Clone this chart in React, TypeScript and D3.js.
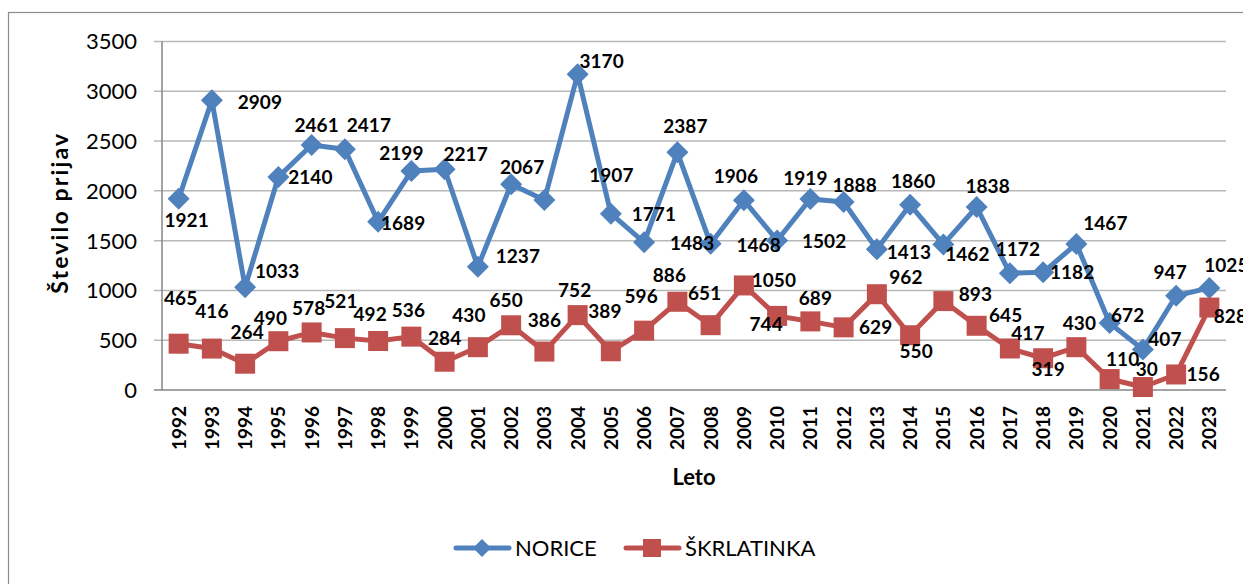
import * as d3 from "d3";

const years = d3.range(1992, 2024).map(String);

const norice = [
  1921, 2909, 1033, 2140, 2461, 2417, 1689, 2199, 2217, 1237, 2067, 1907, 3170, 1771, 1483, 2387,
  1468, 1906, 1502, 1919, 1888, 1413, 1860, 1462, 1838, 1172, 1182, 1467, 672, 407, 947, 1025,
];

const skrlatinka = [
  465, 416, 264, 490, 578, 521, 492, 536, 284, 430, 650, 386, 752, 389, 596, 886,
  651, 1050, 744, 689, 629, 962, 550, 893, 645, 417, 319, 430, 110, 30, 156, 828,
];

const yTicks = [0, 500, 1000, 1500, 2000, 2500, 3000, 3500];

// label offsets from the point (dx, baseline dy), as placed in the original
const noriceLabelOffset = [
  [8, 28], [48, 9], [32, -9], [32, 7], [5, -13], [24, -17], [25, 8], [-10, -11],
  [21, -8], [40, -4], [11, -10], [67, -18], [24, -6], [43, 7], [48, 8], [8, -19],
  [48, 8], [-8, -17], [47, 8], [-5, -14], [11, -10], [32, 10], [3, -17], [24, 17],
  [11, -14], [8, -17], [29, 7], [29, -14], [18, -1], [22, -3], [-6, -17], [17, -16],
];
const skrlatinkaLabelOffset = [
  [2, -39], [0, -31], [2, -25], [-8, -16], [-3, -17], [-4, -30], [-8, -20], [-3, -20],
  [0, -17], [-9, -25], [-5, -18], [0, -25], [-3, -18], [-6, -33], [-3, -28], [-8, -20],
  [-6, -25], [30, 2], [-11, 15], [5, -16], [32, 7], [29, -10], [6, 23], [32, 0],
  [29, -4], [18, -8], [5, 18], [3, -17], [13, -13], [4, -11], [27, 7], [21, 15],
];

const BLUE = "#4F81BD";
const RED = "#C0504D";
const FONT = "Lato, 'Open Sans', sans-serif";

export default function App() {
  const width = 1243;
  const height = 584;
  const plot = { left: 162, right: 1226, top: 41.5, bottom: 390 };

  const x = d3.scaleBand().domain(years).range([plot.left, plot.right]);
  const cx = (y: string) => (x(y) as number) + x.bandwidth() / 2;
  const y = d3.scaleLinear().domain([0, 3500]).range([plot.bottom, plot.top]);

  const line = d3
    .line<number>()
    .x((_, i) => cx(years[i]))
    .y(d => y(d));

  const diamond = (r: number) => `M0,${-r}L${r},0L0,${r}L${-r},0Z`;

  return (
    <svg
      width={width}
      height={height}
      style={{ position: "absolute", left: 0, top: 0, background: "#fff" }}
      fontFamily={FONT}
    >
      <rect x={8.5} y={12.5} width={1260} height={600} fill="none" stroke="#8c8c8c" strokeWidth={1.2} />

      {/* grid */}
      {yTicks.map(t => (
        <g key={t}>
          <line
            x1={plot.left - 8}
            x2={plot.right}
            y1={y(t)}
            y2={y(t)}
            stroke={t === 0 ? "#868686" : "#b8b8b8"}
            strokeWidth={1.5}
          />
          <text x={137} y={y(t)} dy="0.36em" textAnchor="end" fontSize={22} fill="#000">
            {t}
          </text>
        </g>
      ))}
      <line x1={plot.left} x2={plot.left} y1={plot.top} y2={plot.bottom} stroke="#868686" strokeWidth={1.5} />

      {/* x labels */}
      {years.map(yr => (
        <text
          key={yr}
          transform={`translate(${cx(yr) + 7},406) rotate(-90)`}
          textAnchor="end"
          fontSize={19}
          fontWeight="bold"
        >
          {yr}
        </text>
      ))}

      <text
        transform={`translate(68,${(plot.top + plot.bottom) / 2 - 2}) rotate(-90)`}
        textAnchor="middle"
        fontSize={23}
        fontWeight="bold"
        textLength={160}
        lengthAdjust="spacing"
      >
        Število prijav
      </text>
      <text x={(plot.left + plot.right) / 2} y={485} textAnchor="middle" fontSize={22} fontWeight="bold">
        Leto
      </text>

      {/* series */}
      <path d={line(norice) ?? ""} fill="none" stroke={BLUE} strokeWidth={5} strokeLinejoin="round" />
      {norice.map((v, i) => (
        <path key={i} d={diamond(11)} transform={`translate(${cx(years[i])},${y(v)})`} fill={BLUE} />
      ))}
      <path d={line(skrlatinka) ?? ""} fill="none" stroke={RED} strokeWidth={5} strokeLinejoin="round" />
      {skrlatinka.map((v, i) => (
        <rect key={i} x={cx(years[i]) - 10} y={y(v) - 10} width={20} height={20} fill={RED} />
      ))}

      {/* data labels */}
      {norice.map((v, i) => (
        <text
          key={"n" + i}
          x={cx(years[i]) + noriceLabelOffset[i][0]}
          y={y(v) + noriceLabelOffset[i][1]}
          textAnchor="middle"
          fontSize={19}
          fontWeight="bold"
        >
          {v}
        </text>
      ))}
      {skrlatinka.map((v, i) => (
        <text
          key={"s" + i}
          x={cx(years[i]) + skrlatinkaLabelOffset[i][0]}
          y={y(v) + skrlatinkaLabelOffset[i][1]}
          textAnchor="middle"
          fontSize={19}
          fontWeight="bold"
        >
          {v}
        </text>
      ))}

      {/* legend */}
      <g transform="translate(0,548)">
        <line x1={456} x2={509} stroke={BLUE} strokeWidth={5} strokeLinecap="round" />
        <path d={diamond(9)} transform="translate(482,0)" fill={BLUE} />
        <text x={515} y={7.5} fontSize={22}>NORICE</text>
        <line x1={626} x2={679} stroke={RED} strokeWidth={5} strokeLinecap="round" />
        <rect x={643} y={-9} width={18} height={18} fill={RED} />
        <text x={685} y={7.5} fontSize={22}>ŠKRLATINKA</text>
      </g>
    </svg>
  );
}
